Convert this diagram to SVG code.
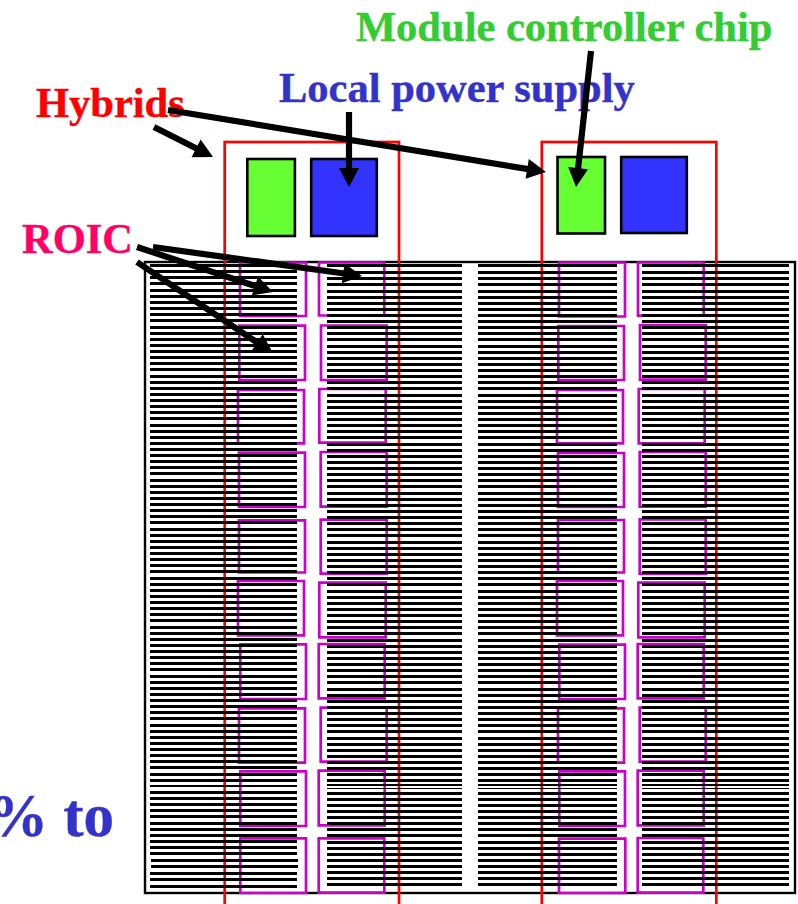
<svg xmlns="http://www.w3.org/2000/svg" width="798" height="904" viewBox="0 0 798 904">
<style>
text{font-family:"Liberation Serif","Times New Roman",serif;font-weight:bold;font-size:42.5px;stroke-width:.4}
.hy{fill:none;stroke:#f00;stroke-width:2.7}
.ro{fill:none;stroke:#c0c;stroke-width:2.7}
.chip{stroke:#000;stroke-width:2.6}
.st{fill:none;stroke:#000;stroke-width:3.2}
.ar{fill:none;stroke:#000;stroke-width:6.2}
</style>
<defs>
<marker id="ah" markerUnits="userSpaceOnUse" markerWidth="20" markerHeight="20" refX="0" refY="10" orient="auto" overflow="visible"><path d="M-1 0L18 10L-1 20z" fill="#000"/></marker>
</defs>
<rect width="798" height="904" fill="#fff"/>
<text id="label-pct" x="-13" y="836" fill="#33c" stroke="#33c" style="font-size:61px">% to</text>
<g id="plate"><rect x="145" y="262" width="650" height="631" fill="#fff" stroke="#000" stroke-width="2.4"/></g>
<g id="hybrid-left"><rect class="hy" x="224.7" y="142" width="174.3" height="770"/></g>
<g id="hybrid-right"><rect class="hy" x="541.8" y="142" width="174.5" height="770"/></g>
<g id="controller-left"><rect class="chip" fill="#6f3" x="247.3" y="159" width="47.6" height="77"/></g>
<g id="power-left"><rect class="chip" fill="#33f" x="311.2" y="159" width="65.6" height="77"/></g>
<g id="controller-right"><rect class="chip" fill="#6f3" x="557.5" y="157" width="47.5" height="76.5"/></g>
<g id="power-right"><rect class="chip" fill="#33f" x="621.2" y="157" width="65.6" height="76"/></g>
<g id="roic-chips">
<path class="ro" d="M240 262.5H306V316H240zM319 262.5H384.3V315.5H319zM239.3 325.7H305V380H239.3zM321 325.5H386.7V380H321zM238 390H304V443.3H238zM319.3 389H385.7V442.7H319.3zM239 452.7H305V507H239zM320.7 452H386.7V506.7H320.7zM239 520.3H305V572.5H239zM320.7 519.7H386.7V573.7H320.7zM238 581H304V635.3H238zM319.3 582.7H385.7V637.3H319.3zM240.3 644.3H306V699H240.3zM318.7 644H384.7V698.3H318.7zM239 708.3H305V762.7H239zM320.7 707.7H386.7V761.7H320.7zM240.3 771.3H306V826H240.3zM318.7 770.7H384.7V825.3H318.7zM240.3 838.3H306V893H240.3zM318.7 838.3H384.3V892.7H318.7z"/>
<path class="ro" d="M559 262.5H625V316.5H559zM638 262.5H703.7V315.7H638zM558.3 326H624V380H558.3zM640 325H705.7V379.7H640zM557 390H623V443.3H557zM638.7 389H704.7V443.3H638.7zM558 453H624V507H558zM639.7 452H705.7V506.7H639.7zM558 520H624V572.5H558zM639.7 519.3H705.7V573.7H639.7zM557 581H623V635.3H557zM638.3 582.7H704.7V637.3H638.3zM559.3 644.7H625V699H559.3zM637.7 644H703.7V698.3H637.7zM558 708.3H624V762.7H558zM639.7 707.7H705.7V761.7H639.7zM559.3 771.3H625V826H559.3zM637.7 770.7H703.7V825.3H637.7zM559 838.7H625.3V893H559zM637.7 838H703.3V892.7H637.7z"/>
</g>
<g id="strips">
<path class="st" d="M150 265.5H297M150 271.5H297M150 277.5H297M150 283.5H297M150 290.5H297M150 296.5H297M150 302.5H297M150 308.5H297M150 314.5H297M150 320.5H297M150 327.5H297M150 333.5H297M150 339.5H297M150 345.5H297M150 351.5H297M150 357.5H297M150 363.5H297M150 369.5H297M150 376.5H297M150 382.5H297M150 388.5H297M150 394.5H297M150 400.5H297M150 406.5H297M150 412.5H297M150 418.5H297M150 425.5H297M150 431.5H297M150 437.5H297M150 443.5H297M150 449.5H297M150 455.5H297M150 461.5H297M150 467.5H297M150 473.5H297M150 480.5H297M150 486.5H297M150 492.5H297M150 498.5H297M150 504.5H297M150 510.5H297M150 516.5H297M150 522.5H297M150 529.5H297M150 535.5H297M150 541.5H297M150 547.5H297M150 553.5H297M150 559.5H297M150 565.5H297M150 571.5H297M150 578.5H297M150 584.5H297M150 590.5H297M150 596.5H297M150 602.5H297M150 608.5H297M150 614.5H297M150 620.5H297M150 627.5H297M150 633.5H297M150 639.5H297M150 645.5H297M150 651.5H297M150 657.5H297M150 663.5H297M150 669.5H297M150 676.5H297M150 682.5H297M150 688.5H297M150 694.5H297M150 700.5H297M150 706.5H297M150 712.5H297M150 718.5H297M150 725.5H297M150 731.5H297M150 737.5H297M150 743.5H297M150 749.5H297M150 755.5H297M150 761.5H297M150 767.5H297M150 774.5H297M150 780.5H297M150 792.5H297M150 798.5H297M150 804.5H297M150 810.5H297M150 816.5H297M150 823.5H297M150 829.5H297M150 835.5H297M150 841.5H297M150 847.5H297M150 853.5H297M151 860.5H298M151 866.5H298M150 873.5H297M150 879.5H297M150 886.5H297"/>
<path d="M150 786H297" stroke="#000" stroke-width="2"/>
<path class="st" stroke-dasharray="135 16 139 25 147" d="M327 265.5H789M327 272.5H789M327 278.5H789M327 284.5H789M327 291.5H789M327 297.5H789M327 303.5H789M327 309.5H789M327 315.5H789M327 321.5H789M327 327.5H789M327 333.5H789M327 339.5H789M327 346.5H789M327 352.5H789M327 358.5H789M327 364.5H789M327 370.5H789M327 376.5H789M327 382.5H789M327 388.5H789M327 395.5H789M327 401.5H789M327 407.5H789M327 413.5H789M327 419.5H789M327 425.5H789M327 431.5H789M327 437.5H789M327 444.5H789M327 450.5H789M327 456.5H789M327 462.5H789M327 468.5H789M327 474.5H789M327 480.5H789M327 486.5H789M327 493.5H789M327 499.5H789M327 505.5H789M327 511.5H789M327 517.5H789M327 523.5H789M327 529.5H789M327 535.5H789M327 542.5H789M327 548.5H789M327 554.5H789M327 560.5H789M327 566.5H789M327 572.5H789M327 578.5H789M327 584.5H789M327 591.5H789M327 597.5H789M327 603.5H789M327 609.5H789M327 615.5H789M327 621.5H789M327 627.5H789M327 633.5H789M327 640.5H789M327 646.5H789M327 652.5H789M327 658.5H789M327 664.5H789M327 670.5H789M327 676.5H789M327 682.5H789M327 689.5H789M327 695.5H789M327 701.5H789M327 707.5H789M327 713.5H789M327 719.5H789M327 725.5H789M327 731.5H789M327 738.5H789M327 744.5H789M327 750.5H789M327 756.5H789M327 762.5H789M327 768.5H789M327 774.5H789M327 780.5H789M327 793.5H789M327 799.5H789M327 805.5H789M327 811.5H789M327 817.5H789M327 823.5H789M327 829.5H789M327 835.5H789M327 842.5H789M327 848.5H789M327 854.5H789M327 860.5H789M327 866.5H789M327 872.5H789M327 878.5H789M327 884.5H789"/>
<path d="M327 785H789" fill="none" stroke="#000" stroke-width="2" stroke-dasharray="135 16 139 25 147"/>
<path d="M327 788.5H789" fill="none" stroke="#000" stroke-width="1" stroke-dasharray="135 16 139 25 147"/>
</g>
<g id="label-module"><text x="356" y="41" fill="#3c3" stroke="#3c3">Module controller chip</text></g>
<g id="label-power"><text x="279" y="102" fill="#33c" stroke="#33c">Local power supply</text></g>
<g id="label-hybrids"><text x="36" y="117" fill="#f00" stroke="#f00">Hybrids</text></g>
<g id="label-roic"><text x="22" y="253" fill="#f06" stroke="#f06">ROIC</text></g>
<g id="connectors" class="ar">
<line x1="154" y1="127" x2="197" y2="148.8" marker-end="url(#ah)"/>
<line x1="168" y1="110" x2="528.2" y2="169.1" marker-end="url(#ah)"/>
<line x1="591" y1="51" x2="578" y2="169.1" marker-end="url(#ah)"/>
<line x1="349" y1="112" x2="349" y2="169" marker-end="url(#ah)"/>
<line x1="137" y1="247" x2="255.9" y2="286.3" marker-end="url(#ah)"/>
<line x1="153" y1="247" x2="344.2" y2="273.5" marker-end="url(#ah)"/>
<line x1="137" y1="262" x2="258" y2="343" marker-end="url(#ah)"/>
</g>
</svg>
